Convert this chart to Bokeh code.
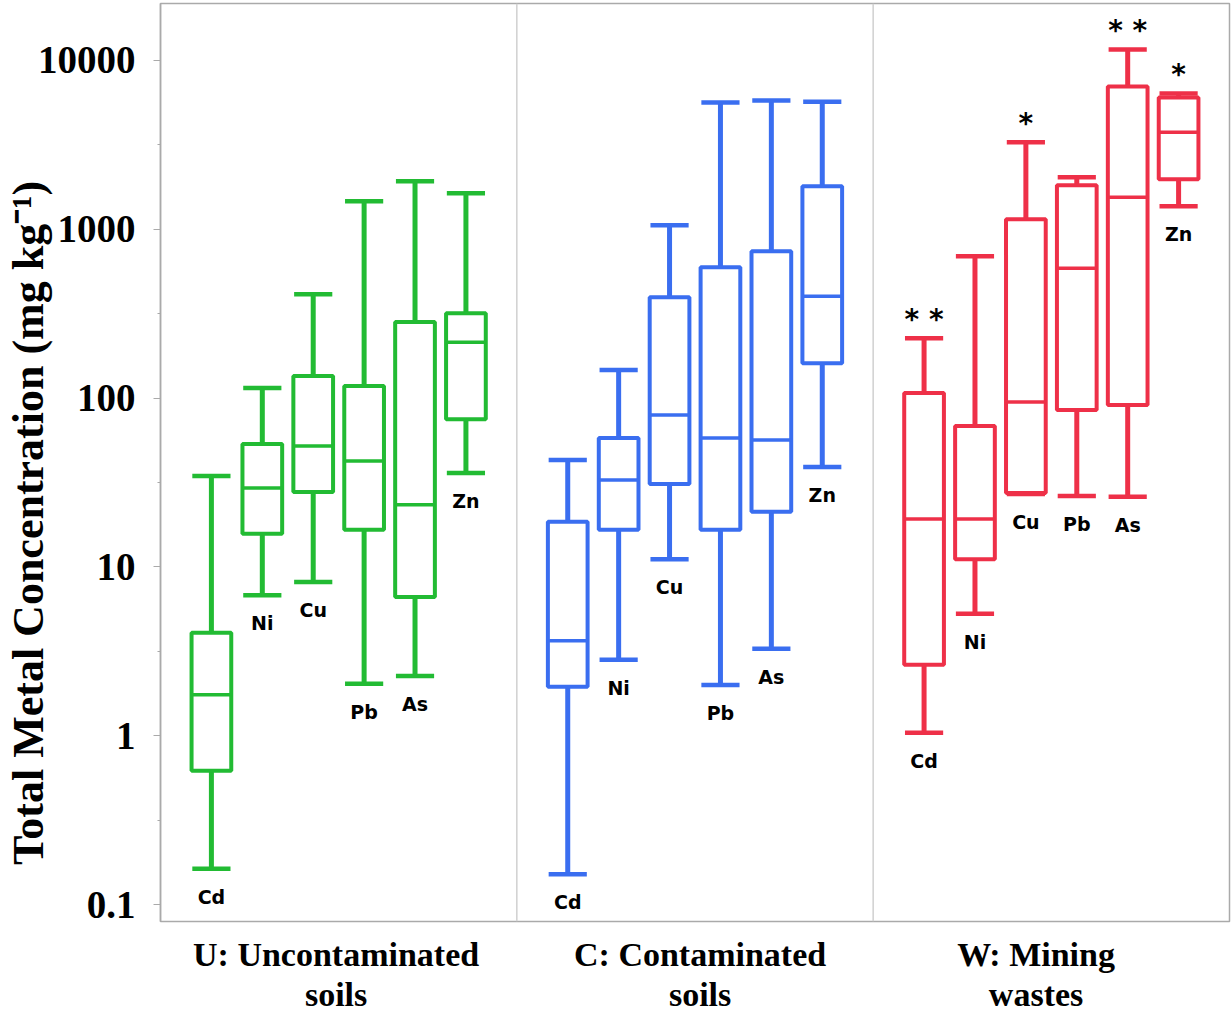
import math
from bokeh.plotting import figure
from bokeh.models import Range1d, FixedTicker, CustomJSTickFormatter, Span, ColumnDataSource, LinearAxis
from bokeh.core.properties import value
from bokeh.embed import file_html
from bokeh.resources import INLINE

metals = ["Cd", "Ni", "Cu", "Pb", "As", "Zn"]
groups = ["U", "C", "W"]
group_labels = ["U: Uncontaminated\nsoils", "C: Contaminated\nsoils", "W: Mining\nwastes"]
group_colors = ["#22BB33", "#3A6EF0", "#EE3048"]

# U: uncontaminated soils
u_low = [0.163, 6.8, 8.15, 2.03, 2.26, 36]
u_q1 = [0.62, 15.7, 27.8, 16.6, 6.64, 75]
u_med = [1.75, 29.3, 52, 42.4, 23.3, 214]
u_q3 = [4.07, 53.4, 135, 118, 282, 318]
u_high = [34.5, 114.6, 412, 1465, 1923, 1633]

# C: contaminated soils
c_low = [0.151, 2.82, 11.1, 2.0, 3.27, 39]
c_q1 = [1.95, 16.6, 31, 16.6, 21.2, 161]
c_med = [3.65, 32.7, 79.3, 58, 56.4, 401]
c_q3 = [18.5, 58, 396, 596, 741, 1796]
c_high = [43, 146.5, 1057, 5640, 5800, 5700]

# W: mining wastes
w_low = [1.04, 5.27, 27, 26.3, 26, 1368]
w_q1 = [2.63, 11.1, 27.4, 84.9, 90.9, 1977]
w_med = [19.2, 19.2, 94.7, 588, 1546, 3750]
w_q3 = [107, 68.3, 1146, 1822, 7020, 6040]
w_high = [226, 692, 3272, 2030, 11620, 6380]
w_stars = ["* *", "", "*", "", "* *", "*"]

y_ticks = [0.1, 1, 10, 100, 1000, 10000]

data = [
    (u_low, u_q1, u_med, u_q3, u_high),
    (c_low, c_q1, c_med, c_q3, c_high),
    (w_low, w_q1, w_med, w_q3, w_high),
]

y_bottom = 10 ** (-1 - 17 / 169)
y_top = 10 ** (4 + 57 / 169)

p = figure(width=1231, height=1016, output_backend="svg", toolbar_location=None,
           y_axis_type="log", x_range=Range1d(0, 21), y_range=Range1d(y_bottom, y_top),
           x_axis_location=None, min_border_left=158, min_border_right=2,
           min_border_top=3, min_border_bottom=94)
p.xgrid.visible = False
p.ygrid.visible = False
p.outline_line_color = "#AAAAAA"
p.outline_line_width = 1.5
p.background_fill_color = "white"
p.border_fill_color = "white"

minor = [math.sqrt(10) * t for t in y_ticks]
p.yaxis.ticker = FixedTicker(ticks=y_ticks, minor_ticks=minor)
p.yaxis.formatter = CustomJSTickFormatter(code="return tick.toString();")
p.yaxis.axis_line_color = "#AAAAAA"
p.yaxis.axis_line_width = 1.5
p.yaxis.major_tick_line_color = "#AAAAAA"
p.yaxis.minor_tick_line_color = "#AAAAAA"
p.yaxis.major_tick_out = 7
p.yaxis.major_tick_in = 0
p.yaxis.minor_tick_out = 3
p.yaxis.minor_tick_in = 0
p.yaxis.major_label_standoff = 18
p.yaxis.major_label_text_font = "Liberation Serif"
p.yaxis.major_label_text_font_style = "bold"
p.yaxis.major_label_text_font_size = "39px"
p.yaxis.major_label_text_color = "black"
p.yaxis.axis_label = "Total Metal Concentration (mg kg\u207b\u00b9)" + "\u00a0" * 11
p.yaxis.axis_label_text_font = "Liberation Serif"
p.yaxis.axis_label_text_font_style = "bold"
p.yaxis.axis_label_text_font_size = "44px"
p.yaxis.axis_label_text_color = "black"
p.yaxis.axis_label_standoff = -18

xaxis = LinearAxis(ticker=FixedTicker(ticks=[3.45, 10.6, 17.2]),
                   major_label_overrides={3.45: group_labels[0], 10.6: group_labels[1], 17.2: group_labels[2]})
xaxis.axis_line_color = None
xaxis.major_tick_line_color = None
xaxis.minor_tick_line_color = None
xaxis.major_tick_out = 0
xaxis.major_tick_in = 0
xaxis.minor_tick_out = 0
xaxis.major_label_standoff = 14
xaxis.major_label_text_font = "Liberation Serif"
xaxis.major_label_text_font_style = "bold"
xaxis.major_label_text_font_size = "34px"
xaxis.major_label_text_color = "black"
xaxis.major_label_text_line_height = 1.1
p.add_layout(xaxis, "below")

for loc in (7, 14):
    p.add_layout(Span(location=loc, dimension="height", line_color="#D0D0D0", line_width=1.5))

box_w = 0.78
cap_w = 0.75
for g, (lo, q1, med, q3, hi) in enumerate(data):
    color = group_colors[g]
    xs = [7 * g + 1 + i for i in range(len(metals))]
    src = ColumnDataSource(dict(x=xs, lo=lo, q1=q1, med=med, q3=q3, hi=hi,
                                left=[x - box_w / 2 for x in xs], right=[x + box_w / 2 for x in xs],
                                cl=[x - cap_w / 2 for x in xs], cr=[x + cap_w / 2 for x in xs],
                                lab=metals))
    p.segment(x0="x", y0="lo", x1="x", y1="hi", source=src, line_color=color, line_width=5)
    p.segment(x0="cl", y0="lo", x1="cr", y1="lo", source=src, line_color=color, line_width=4.5)
    p.segment(x0="cl", y0="hi", x1="cr", y1="hi", source=src, line_color=color, line_width=4.5)
    p.quad(left="left", right="right", bottom="q1", top="q3", source=src,
           fill_color="white", line_color=color, line_width=4)
    p.segment(x0="left", y0="med", x1="right", y1="med", source=src, line_color=color, line_width=3.5)
    p.text(x="x", y="lo", text="lab", source=src, text_align="center", text_baseline="middle",
           y_offset=28, text_font=value("DejaVu Sans"), text_font_style="bold",
           text_font_size="19px", text_color="black")

xs_w = [14 + 1 + i for i in range(len(metals))]
star_src = ColumnDataSource(dict(x=xs_w, y=w_high, t=w_stars))
p.text(x="x", y="y", text="t", source=star_src, text_align="center", text_baseline="alphabetic",
       y_offset=-19, text_font=value("DejaVu Sans"), text_font_style="bold",
       text_font_size="28px", text_color="black")

open("out.html", "w").write(file_html(p, INLINE))
